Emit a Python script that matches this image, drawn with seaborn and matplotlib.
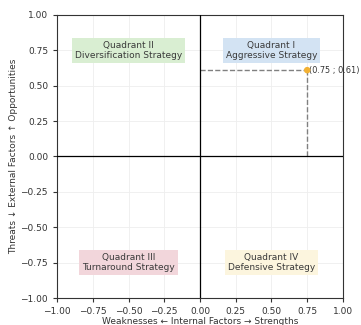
import matplotlib
matplotlib.use("Agg")
import matplotlib.pyplot as plt
import seaborn as sns
import pandas as pd

# data
point_x = [0.75]
point_y = [0.61]
quad_names = ["Quadrant I\nAggressive Strategy", "Quadrant II\nDiversification Strategy",
              "Quadrant III\nTurnaround Strategy", "Quadrant IV\nDefensive Strategy"]
quad_x = [0.5, -0.5, -0.5, 0.5]
quad_y = [0.75, 0.75, -0.75, -0.75]
quad_colors = ["#d3e3f3", "#d9eed2", "#f2d6db", "#fcf5de"]
ticks = [-1.0, -0.75, -0.5, -0.25, 0.0, 0.25, 0.5, 0.75, 1.0]

sns.set_style("whitegrid")
plt.rcParams['font.family'] = ['DejaVu Sans']

fig = plt.figure(figsize=(3.61, 3.25), dpi=100)
ax = fig.add_axes([0.158, 0.083, 0.792, 0.871])

df = pd.DataFrame({"x": point_x, "y": point_y})
ax.plot([0, point_x[0]], [point_y[0], point_y[0]], ls="--", color="gray", lw=1, zorder=2)
ax.plot([point_x[0], point_x[0]], [0, point_y[0]], ls="--", color="gray", lw=1, zorder=2)
sns.scatterplot(data=df, x="x", y="y", ax=ax, color="#f2b134", s=22, zorder=5, edgecolor="none")
ax.annotate("(0.75 ; 0.61)", (point_x[0], point_y[0]), xytext=(1.5, 0), textcoords="offset points",
            fontsize=5.9, va="center", color="#333333", annotation_clip=False)

ax.axhline(0, color="black", lw=0.9, zorder=3)
ax.axvline(0, color="black", lw=0.9, zorder=3)

for name, x, y, c in zip(quad_names, quad_x, quad_y, quad_colors):
    ax.text(x, y, name, ha="center", va="center", fontsize=6.5, color="#3a3a3a",
            bbox=dict(boxstyle="square,pad=0.3", fc=c, ec="none"))

ax.set_xlim(-1, 1)
ax.set_ylim(-1, 1)
ax.set_xticks(ticks)
ax.set_yticks(ticks)
ax.tick_params(labelsize=6.5, length=3, colors="#333333", left=True, bottom=True)
ax.grid(True, color="#eeeeee", lw=0.6)
for s in ax.spines.values():
    s.set_color("#333333")
    s.set_linewidth(0.8)
ax.set_xlabel("Weaknesses ← Internal Factors → Strengths", fontsize=6.5, labelpad=1, color="#333333")
ax.set_ylabel("Threats ↓ External Factors ↑ Opportunities", fontsize=6.5, labelpad=2, color="#333333")

fig.savefig("out.png", dpi=100)
